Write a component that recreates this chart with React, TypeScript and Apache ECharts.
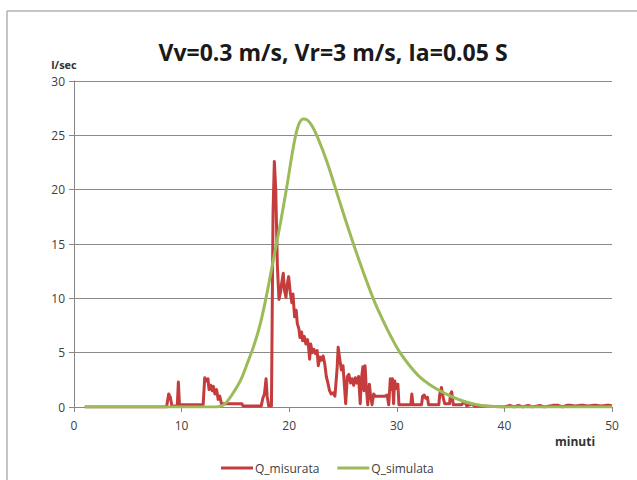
import React, { useEffect, useRef } from "react";
import * as echarts from "echarts";

const titleText = "Vv=0.3 m/s, Vr=3 m/s, Ia=0.05 S";
const yUnit = "l/sec";
const xUnit = "minuti";
const seriesNames = ["Q_misurata", "Q_simulata"];

// measured discharge [minute, l/sec]
const measured: [number, number][] = [
  [1, 0], [8.6, 0], [8.8, 1.2], [8.95, 0.9], [9.1, 0.1], [9.6, 0.1], [9.7, 2.3], [9.8, 0.2],
  [12.0, 0.2], [12.15, 2.7], [12.3, 2.4], [12.45, 2.6], [12.55, 1.6], [12.7, 2.0], [12.85, 1.5],
  [12.95, 1.9], [13.1, 1.2], [13.25, 1.6], [13.4, 0.7], [13.55, 1.0], [13.7, 0.3], [15.6, 0.3],
  [15.7, 0.1], [17.4, 0.1], [17.55, 0.8], [17.7, 1.2], [17.85, 2.6], [17.95, 1.0], [18.1, 0.1],
  [18.35, 0.1], [18.5, 18.0], [18.62, 22.6], [18.75, 20.0], [18.9, 13.0], [19.05, 9.9],
  [19.2, 10.6], [19.3, 11.4], [19.45, 12.3], [19.55, 10.8], [19.7, 10.1], [19.8, 11.2],
  [19.95, 12.0], [20.1, 10.5], [20.25, 9.6], [20.35, 10.4], [20.5, 8.3], [20.65, 8.9],
  [20.75, 7.7], [20.9, 7.2], [21.0, 6.4], [21.15, 6.9], [21.25, 6.1], [21.4, 6.5], [21.55, 5.8],
  [21.7, 6.2], [21.8, 5.5], [21.9, 4.4], [22.0, 5.8], [22.15, 5.0], [22.3, 5.3], [22.45, 4.9],
  [22.6, 5.2], [22.7, 3.8], [22.85, 4.6], [23.0, 4.3], [23.15, 4.7], [23.3, 4.0], [23.45, 2.8],
  [23.6, 2.2], [23.75, 1.5], [23.9, 1.2], [24.1, 1.3], [24.25, 1.0], [24.45, 3.5], [24.55, 5.5],
  [24.7, 4.4], [24.85, 3.4], [25.0, 3.8], [25.1, 2.4], [25.25, 0.3], [25.4, 2.8], [25.55, 3.0],
  [25.7, 2.2], [25.85, 2.6], [26.0, 2.0], [26.15, 2.7], [26.3, 2.2], [26.45, 2.8], [26.6, 0.3],
  [26.7, 2.5], [26.85, 3.7], [26.95, 1.5], [27.05, 3.8], [27.15, 2.0], [27.3, 0.2], [27.45, 2.1],
  [27.55, 1.2], [27.7, 0.2], [27.85, 1.2], [28.0, 1.0], [28.3, 1.0], [28.6, 1.0], [28.9, 1.0],
  [29.1, 1.1], [29.25, 0.2], [29.4, 2.6], [29.5, 1.6], [29.6, 2.6], [29.7, 0.3], [29.8, 2.4],
  [29.95, 1.7], [30.1, 2.1], [30.2, 0.2], [31.3, 0.2], [31.4, 1.2], [31.5, 0.2], [32.3, 0.2],
  [32.4, 1.0], [32.55, 1.1], [32.7, 0.8], [32.85, 0.9], [32.95, 0.2], [33.9, 0.2], [34.0, 1.2],
  [34.15, 1.8], [34.3, 0.9], [34.45, 0.3], [34.9, 0.3], [35.0, 1.2], [35.1, 1.4], [35.25, 0.2],
  [36.0, 0.2], [36.3, 0.5], [36.5, 0.1], [37.0, 0.3], [37.2, 0.1], [38.0, 0.1], [40.0, 0],
  [40.5, 0.15], [40.9, 0], [41.3, 0.15], [41.7, 0], [42.2, 0.15], [42.6, 0], [43.3, 0.15],
  [43.7, 0], [44.5, 0.15], [45.0, 0.15], [45.4, 0], [45.8, 0.15], [46.2, 0.15], [46.6, 0.1],
  [47.0, 0.15], [47.4, 0.15], [47.8, 0.1], [48.2, 0.15], [48.6, 0.15], [49.0, 0.1],
  [49.4, 0.15], [49.8, 0.15], [50, 0.1],
];

// simulated discharge [minute, l/sec]
const simulated: [number, number][] = [
  [1, 0], [13.0, 0], [13.5, 0.05], [14.0, 0.25], [14.8, 1.3], [15.5, 2.5], [16.1, 4.0],
  [16.7, 5.6], [17.3, 7.6], [17.9, 10.3], [18.5, 13.4], [19.2, 17.0], [19.8, 20.4],
  [20.4, 24.0], [20.85, 25.9], [21.3, 26.5], [21.7, 26.4], [22.1, 25.9], [22.6, 24.9],
  [23.5, 22.6], [24.4, 19.8], [25.5, 16.4], [26.6, 13.2], [27.8, 10.0], [28.7, 8.0],
  [29.5, 6.4], [30.3, 5.0], [31.2, 3.8], [32.1, 2.8], [33.0, 2.1], [34.0, 1.5], [35.0, 1.0],
  [36.0, 0.6], [37.0, 0.3], [38.0, 0.12], [39.0, 0.04], [40.0, 0], [50, 0],
];

const yTicks = { min: 0, max: 30, interval: 5 };
const xTicks = { min: 0, max: 50, interval: 10 };

export default function App() {
  const ref = useRef<HTMLDivElement>(null);
  useEffect(() => {
    document.body.style.margin = "0";
    const chart = echarts.init(ref.current!, null, { renderer: "svg" });
    const font = "'Open Sans', sans-serif";
    const red = "#C43C3C";
    const green = "#9BBB59";
    chart.setOption({
      animation: false,
      backgroundColor: "#ffffff",
      textStyle: { fontFamily: font },
      grid: { left: 74, right: 25, top: 81, bottom: 73, containLabel: false },
      graphic: [
        {
          type: "rect",
          shape: { x: 7, y: 11, width: 700, height: 600 },
          style: { fill: "none", stroke: "#8c8c8c", lineWidth: 1 },
          silent: true,
        },
        {
          type: "text",
          x: 333,
          y: 52,
          style: {
            text: titleText,
            fontFamily: font,
            fontSize: 23,
            fontWeight: "bold",
            fill: "#1a1a1a",
            textAlign: "center",
            textVerticalAlign: "middle",
          },
        },
        {
          type: "text",
          x: 64,
          y: 64,
          style: {
            text: yUnit,
            fontFamily: font,
            fontSize: 11,
            fontWeight: "bold",
            fill: "#333333",
            textAlign: "center",
            textVerticalAlign: "middle",
          },
        },
        {
          type: "text",
          x: 575,
          y: 441,
          style: {
            text: xUnit,
            fontFamily: font,
            fontSize: 12,
            fontWeight: "bold",
            fill: "#333333",
            textAlign: "center",
            textVerticalAlign: "middle",
          },
        },
      ],
      legend: {
        left: 216,
        top: 457,
        itemWidth: 32,
        itemHeight: 3,
        itemGap: 18,
        icon: "rect",
        textStyle: { fontFamily: font, fontSize: 12, color: "#404040", padding: [0, 0, 0, -3] },
        data: seriesNames,
      },
      xAxis: {
        type: "value",
        min: xTicks.min,
        max: xTicks.max,
        interval: xTicks.interval,
        axisLine: { show: true, lineStyle: { color: "#868686", width: 1 } },
        axisTick: { show: true, length: 5, lineStyle: { color: "#868686" } },
        axisLabel: { fontFamily: font, fontSize: 12, color: "#404040", margin: 12 },
        splitLine: { show: false },
      },
      yAxis: {
        type: "value",
        min: yTicks.min,
        max: yTicks.max,
        interval: yTicks.interval,
        axisLine: { show: true, lineStyle: { color: "#868686", width: 1 } },
        axisTick: { show: true, length: 5, lineStyle: { color: "#868686" } },
        axisLabel: { fontFamily: font, fontSize: 12, color: "#404040", margin: 9 },
        splitLine: { show: true, lineStyle: { color: "#8a8a8a", width: 1 } },
      },
      series: [
        {
          name: seriesNames[0],
          type: "line",
          data: measured,
          showSymbol: false,
          symbol: "none",
          lineStyle: { color: red, width: 3, join: "round" },
          itemStyle: { color: red },
          z: 2,
        },
        {
          name: seriesNames[1],
          type: "line",
          data: simulated,
          smooth: 0.35,
          showSymbol: false,
          symbol: "none",
          lineStyle: { color: green, width: 3 },
          itemStyle: { color: green },
          z: 3,
        },
      ],
    });
    return () => chart.dispose();
  }, []);
  return <div ref={ref} style={{ width: 637, height: 480 }} />;
}
